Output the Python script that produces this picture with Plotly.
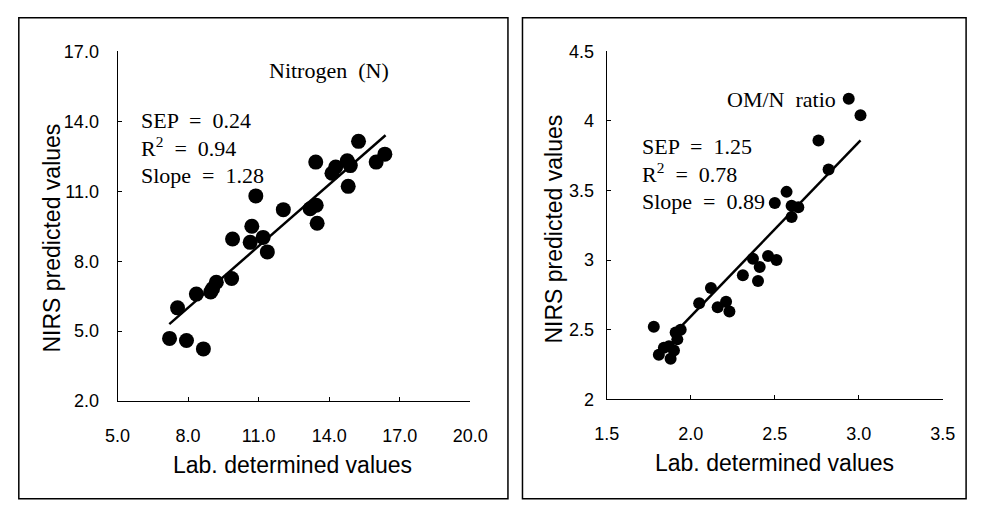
import plotly.graph_objects as go

W, H = 987, 513

# ---------------- data ----------------
n_lab = [7.21, 7.93, 8.65, 7.55, 8.35, 9.04, 8.96, 9.20, 9.85, 9.89, 10.71, 10.64,
         10.88, 11.19, 11.37, 12.05, 13.19, 13.45, 13.49, 13.43, 14.12, 14.28,
         14.77, 14.90, 14.81, 15.25, 16.00, 16.37]
n_pred = [4.69, 4.60, 4.24, 6.00, 6.59, 6.82, 6.68, 7.10, 7.26, 8.95, 9.50, 8.81,
          10.80, 9.02, 8.40, 10.21, 10.25, 10.40, 9.63, 12.25, 11.77, 12.04,
          12.31, 12.10, 11.21, 13.14, 12.25, 12.59]
n_fit_x = [7.2, 16.4]
n_fit_y = [5.3, 13.4]

r_lab = [1.78, 1.81, 1.84, 1.87, 1.88, 1.90, 1.91, 1.94, 1.92, 2.05, 2.12, 2.16,
         2.21, 2.23, 2.31, 2.37, 2.41, 2.40, 2.46, 2.51, 2.50, 2.57, 2.60, 2.64,
         2.60, 2.76, 2.82, 2.94, 3.01]
r_pred = [2.52, 2.32, 2.37, 2.38, 2.29, 2.35, 2.48, 2.50, 2.43, 2.69, 2.80, 2.66,
          2.70, 2.63, 2.89, 3.01, 2.95, 2.85, 3.03, 3.00, 3.41, 3.49, 3.39, 3.38,
          3.31, 3.86, 3.65, 4.16, 4.04]
r_fit_x = [1.94, 3.01]
r_fit_y = [2.52, 3.86]

n_xticks = [5, 8, 11, 14, 17, 20]
n_xtext = ["5.0", "8.0", "11.0", "14.0", "17.0", "20.0"]
n_yticks = [2, 5, 8, 11, 14, 17]
n_ytext = ["2.0", "5.0", "8.0", "11.0", "14.0", "17.0"]
r_xticks = [1.5, 2.0, 2.5, 3.0, 3.5]
r_xtext = ["1.5", "2.0", "2.5", "3.0", "3.5"]
r_yticks = [2, 2.5, 3, 3.5, 4, 4.5]
r_ytext = ["2", "2.5", "3", "3.5", "4", "4.5"]

x_title = "Lab. determined values"
y_title = "NIRS predicted values"


def px(x):
    return x / W


def py(y):
    return 1 - y / H


fig = go.Figure()
fig.add_trace(go.Scatter(x=n_fit_x, y=n_fit_y, mode="lines",
                         line=dict(color="black", width=2.5), xaxis="x", yaxis="y"))
fig.add_trace(go.Scatter(x=n_lab, y=n_pred, mode="markers",
                         marker=dict(color="black", size=15), xaxis="x", yaxis="y"))
fig.add_trace(go.Scatter(x=r_fit_x, y=r_fit_y, mode="lines",
                         line=dict(color="black", width=2.5), xaxis="x2", yaxis="y2"))
fig.add_trace(go.Scatter(x=r_lab, y=r_pred, mode="markers",
                         marker=dict(color="black", size=12), xaxis="x2", yaxis="y2"))

tickfont = dict(family="Liberation Sans, Arial, sans-serif", size=18, color="black")
axcommon = dict(showline=True, linecolor="black", linewidth=1.2, ticks="inside",
                ticklen=4, tickcolor="black", showgrid=False, zeroline=False,
                tickfont=tickfont, fixedrange=True)

fig.update_layout(
    width=W, height=H, margin=dict(l=0, r=0, t=0, b=0),
    paper_bgcolor="white", plot_bgcolor="white", showlegend=False,
    xaxis=dict(domain=[px(108), px(472)], range=[5, 20], tickvals=n_xticks,
               ticktext=n_xtext, anchor="y", ticklabelstandoff=18, **axcommon),
    yaxis=dict(domain=[py(407), py(43)], range=[2, 17], tickvals=n_yticks,
               ticktext=n_ytext, anchor="x", ticklabelstandoff=14, **axcommon),
    xaxis2=dict(domain=[px(613), px(960)], range=[1.5, 3.5], tickvals=r_xticks,
                ticktext=r_xtext, anchor="y2", ticklabelstandoff=18, **axcommon),
    yaxis2=dict(domain=[py(405), py(43)], range=[2, 4.5], tickvals=r_yticks,
                ticktext=r_ytext, anchor="x2", ticklabelstandoff=8, **axcommon),
)

# panel frames
for x0, x1 in [(6, 511), (526, 984)]:
    fig.add_shape(type="rect", xref="paper", yref="paper",
                  x0=px(x0), x1=px(x1), y0=py(508.5), y1=py(8),
                  line=dict(color="black", width=1.5))

titlefont = dict(family="Liberation Sans, Arial, sans-serif", size=23, color="black")
serif = dict(family="Liberation Serif, Times New Roman, serif", size=22, color="black")

ann = []
# axis titles
ann.append(dict(x=px(289), y=py(473), text=x_title, font=titlefont))
ann.append(dict(x=px(786), y=py(471), text=x_title, font=titlefont))
ann.append(dict(x=px(40), y=py(237), text=y_title, font=titlefont, textangle=-90))
ann.append(dict(x=px(559), y=py(228), text=y_title, font=titlefont, textangle=-90))
# panel labels
ann.append(dict(x=px(262), y=py(63), text="Nitrogen  (N)", font=serif, xanchor="left"))
ann.append(dict(x=px(735), y=py(93), text="OM/N  ratio", font=serif, xanchor="left"))
for (x0, ys, vals) in [(130, [115, 143, 172], ["0.24", "0.94", "1.28"]),
                       (647, [142, 170, 199], ["1.25", "0.78", "0.89"])]:
    labels = ["SEP  =  " + vals[0], "R<sup>2</sup>  =  " + vals[1], "Slope  =  " + vals[2]]
    for yy, t in zip(ys, labels):
        ann.append(dict(x=px(x0), y=py(yy), text=t, font=serif, xanchor="left"))

for a in ann:
    a.update(xref="paper", yref="paper", showarrow=False)
    a.setdefault("xanchor", "center")
    a.setdefault("yanchor", "middle")
fig.update_layout(annotations=ann)

fig.write_html("out.html", config={"displayModeBar": False},
               post_script="document.body.style.margin='0';document.body.style.overflow='hidden';")
